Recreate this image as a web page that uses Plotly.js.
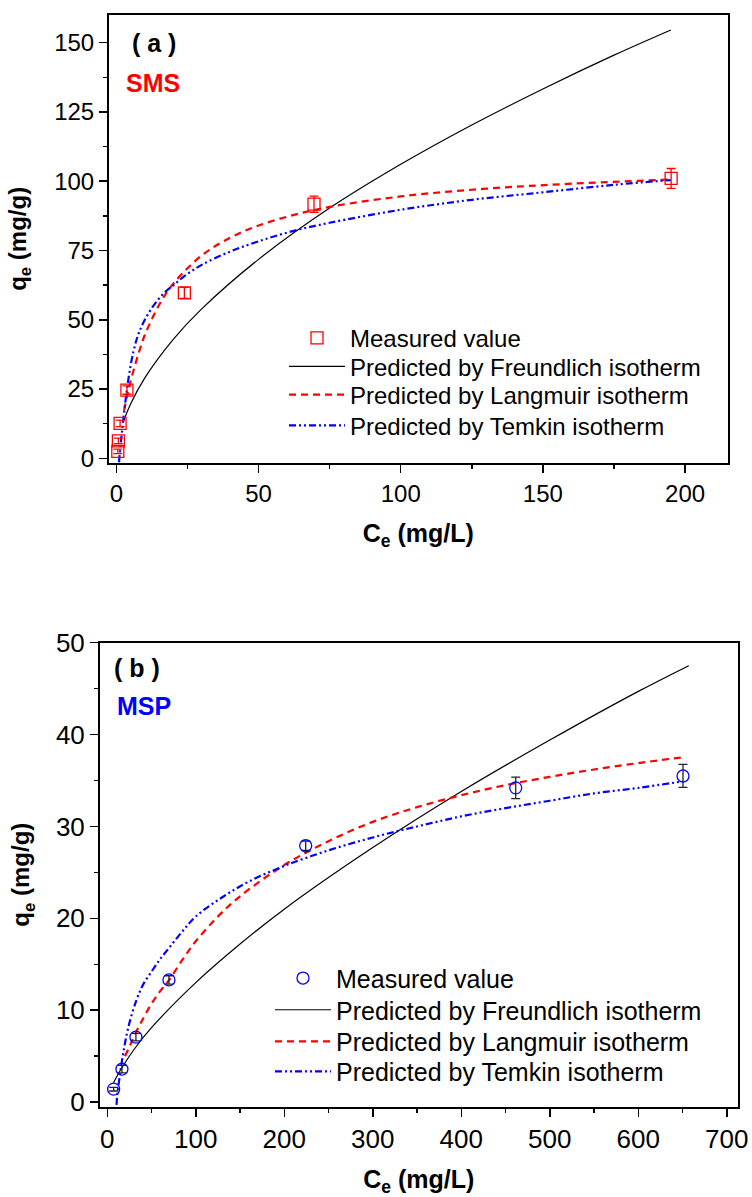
<!DOCTYPE html>
<html><head><meta charset="utf-8">
<script src="https://cdn.plot.ly/plotly-3.0.1.min.js"></script>
<style>html,body{margin:0;padding:0;background:#fff}</style>
</head><body><div id="chart" style="width:752px;height:1197px"></div>
<script>
// ---------- Panel (a) SMS ----------
const smsCe  = [0.5, 0.7, 1.3, 3.7, 23.9, 69.5, 195.1];
const smsQe  = [2.5, 6.3, 12.6, 24.6, 59.7, 91.7, 101.0];
const smsErr = [0.8, 1.0, 1.2, 1.5, 2.0, 2.9, 3.6];
const smsFreCe = [2.5, 5, 10, 20, 30, 50, 75, 100, 125, 150, 175, 195];
const smsFreQe = [13.3, 19.6, 29.0, 42.9, 53.9, 71.8, 90.3, 106.1, 120.3, 133.3, 145.5, 154.6];
const smsLanCe = [2.7, 4, 6, 8, 10, 15, 20, 30, 40, 50, 70, 100, 130, 160, 195];
const smsLanQe = [17.2, 23.6, 31.6, 38.5, 44.5, 55.3, 63.0, 73.2, 79.6, 84.0, 89.7, 94.5, 97.3, 99.1, 100.6];
const smsTemCe = [0.9, 1.5, 2, 3, 4, 5, 6, 7, 8, 10, 13, 16.6, 20, 24, 30, 40, 50, 62, 75, 100, 125, 150, 175, 195];
const smsTemQe = [-1.5, 5, 10, 19, 27, 33.5, 38.5, 42.5, 45.5, 50.0, 55.0, 59.5, 62.4, 65.8, 69.8, 74.6, 78.3, 82.0, 85.0, 89.7, 93.3, 96.0, 98.7, 100.4];

// ---------- Panel (b) MSP ----------
const mspCe  = [7.2, 16.6, 32.4, 69.7, 224.2, 461.5, 650.5];
const mspQe  = [1.41, 3.59, 7.07, 13.3, 27.9, 34.2, 35.5];
const mspErr = [0.2, 0.4, 0.4, 0.45, 0.5, 1.18, 1.25];
const mspFreCe = [7, 15, 30, 50, 100, 150, 200, 300, 400, 500, 600, 657];
const mspFreQe = [2.1, 3.5, 5.7, 8.1, 13.0, 17.2, 21.0, 27.7, 33.8, 39.4, 44.7, 47.5];
const mspLanCe = [20, 25, 30, 40, 50, 60, 70, 85, 100, 125, 150, 200, 250, 300, 350, 400, 450, 500, 550, 600, 648];
const mspLanQe = [5.0, 6.0, 7.1, 9.0, 10.7, 12.1, 13.3, 15.5, 17.5, 20.2, 22.4, 25.8, 28.4, 30.5, 32.1, 33.4, 34.5, 35.4, 36.2, 36.9, 37.5];
const mspTemCe = [10.5, 11, 12.5, 16, 20, 25, 33, 40, 50, 60, 70, 85, 100, 130, 160, 200, 250, 300, 350, 400, 450, 500, 550, 600, 650];
const mspTemQe = [-0.3, 0.45, 1.7, 4.1, 6.4, 8.6, 11.1, 12.7, 14.2, 15.6, 16.8, 18.6, 20.2, 22.3, 24.0, 25.7, 27.4, 28.8, 30.0, 31.1, 32.0, 32.8, 33.6, 34.2, 34.9];

const legendNames = ['Measured value', 'Predicted by Freundlich isotherm', 'Predicted by Langmuir isotherm', 'Predicted by Temkin isotherm'];

const F = 'Liberation Sans, Arial, sans-serif';
const W = 752, H = 1197;
const px = v => v / W, py = v => 1 - v / H;
const DASH_L = '7px,5px';
const DASH_T = '7px,3px,2px,3px,2px,3px';

const traces = [
  {x: smsFreCe, y: smsFreQe, name: legendNames[1], mode: 'lines', line: {color: '#000', width: 1.2, shape: 'spline'}, xaxis: 'x', yaxis: 'y', legend: 'legend2'},
  {x: smsLanCe, y: smsLanQe, name: legendNames[2], mode: 'lines', line: {color: '#ff0000', width: 2.2, dash: DASH_L, shape: 'spline'}, xaxis: 'x', yaxis: 'y', legend: 'legend3'},
  {x: smsTemCe, y: smsTemQe, name: legendNames[3], mode: 'lines', line: {color: '#0000ff', width: 2.2, dash: DASH_T, shape: 'spline'}, xaxis: 'x', yaxis: 'y', legend: 'legend4'},
  {x: smsCe, y: smsQe, name: legendNames[0], mode: 'markers', marker: {symbol: 'square-open', size: 12, color: '#ff0000', line: {width: 1.3}},
   error_y: {type: 'data', array: smsErr, color: '#ff0000', thickness: 1.3, width: 4.5}, xaxis: 'x', yaxis: 'y', legend: 'legend'},

  {x: mspFreCe, y: mspFreQe, name: legendNames[1], mode: 'lines', line: {color: '#000', width: 1.2, shape: 'spline'}, xaxis: 'x2', yaxis: 'y2', legend: 'legend6'},
  {x: mspLanCe, y: mspLanQe, name: legendNames[2], mode: 'lines', line: {color: '#ff0000', width: 2.2, dash: DASH_L, shape: 'spline'}, xaxis: 'x2', yaxis: 'y2', legend: 'legend7'},
  {x: mspTemCe, y: mspTemQe, name: legendNames[3], mode: 'lines', line: {color: '#0000ff', width: 2.2, dash: DASH_T, shape: 'spline'}, xaxis: 'x2', yaxis: 'y2', legend: 'legend8'},
  {x: mspCe, y: mspQe, name: legendNames[0], mode: 'markers', marker: {symbol: 'circle-open', size: 12, color: '#0000ff', line: {width: 1.3}},
   error_y: {type: 'data', array: mspErr, color: '#222', thickness: 1.3, width: 4.5}, xaxis: 'x2', yaxis: 'y2', legend: 'legend5'}
];

function leg(x, y, size) {
  return {x: px(x), y: py(y), xanchor: 'left', yanchor: 'middle', bgcolor: 'rgba(0,0,0,0)', borderwidth: 0,
          font: {family: F, size: size, color: '#000'}, itemwidth: 56};
}

function axis(extra) {
  return Object.assign({ticks: 'outside', ticklen: 8, tickwidth: 1.5, tickcolor: '#000', showline: true, linewidth: 2, linecolor: '#000',
    mirror: true, showgrid: false, zeroline: false, tick0: 0}, extra);
}

const layout = {
  width: W, height: H, margin: {l: 0, r: 0, t: 0, b: 0}, paper_bgcolor: '#fff', plot_bgcolor: '#fff',
  font: {family: F, color: '#000'}, showlegend: true,
  xaxis: axis({domain: [px(109), px(727.7)], range: [-2.6, 215], anchor: 'y', dtick: 50,
    minor: {dtick: 25, ticks: 'outside', ticklen: 4, tickwidth: 1.5, tickcolor: '#000'}, tickfont: {size: 24},
    title: {text: '<b>C<sub>e</sub> (mg/L)</b>', font: {size: 25}, standoff: 19}}),
  yaxis: axis({domain: [py(462.7), py(15)], range: [-1.6, 160], anchor: 'x', dtick: 25,
    minor: {dtick: 12.5, ticks: 'outside', ticklen: 4, tickwidth: 1.5, tickcolor: '#000'}, tickfont: {size: 24},
    title: {text: '<b>q<sub>e</sub> (mg/g)</b>', font: {size: 24}, standoff: 21}}),
  xaxis2: axis({domain: [px(100), px(737.7)], range: [-8.2, 712.3], anchor: 'y2', dtick: 100,
    minor: {dtick: 50, ticks: 'outside', ticklen: 4, tickwidth: 1.5, tickcolor: '#000'}, tickfont: {size: 26},
    title: {text: '<b>C<sub>e</sub> (mg/L)</b>', font: {size: 25}, standoff: 19}}),
  yaxis2: axis({domain: [py(1106.7), py(642.7)], range: [-0.5, 50], anchor: 'x2', dtick: 10,
    minor: {dtick: 5, ticks: 'outside', ticklen: 4, tickwidth: 1.5, tickcolor: '#000'}, tickfont: {size: 26},
    title: {text: '<b>q<sub>e</sub> (mg/g)</b>', font: {size: 24}, standoff: 19}}),
  legend:  leg(284, 338.3, 24), legend2: leg(284, 366.7, 24), legend3: leg(284, 395, 24), legend4: leg(284, 425.7, 24),
  legend5: leg(270, 978.3, 25), legend6: leg(270, 1010, 25), legend7: leg(270, 1041.7, 25), legend8: leg(270, 1071.7, 25),
  annotations: [
    {text: '<b>( a )</b>', x: px(130), y: py(42.7), xref: 'paper', yref: 'paper', xanchor: 'left', yanchor: 'middle', showarrow: false, font: {size: 25, color: '#000'}},
    {text: '<b>SMS</b>', x: px(124), y: py(83), xref: 'paper', yref: 'paper', xanchor: 'left', yanchor: 'middle', showarrow: false, font: {size: 25, color: '#ff0000'}},
    {text: '<b>( b )</b>', x: px(112), y: py(668.3), xref: 'paper', yref: 'paper', xanchor: 'left', yanchor: 'middle', showarrow: false, font: {size: 25, color: '#000'}},
    {text: '<b>MSP</b>', x: px(115), y: py(706), xref: 'paper', yref: 'paper', xanchor: 'left', yanchor: 'middle', showarrow: false, font: {size: 25, color: '#0000ff'}}
  ]
};

Plotly.newPlot('chart', traces, layout, {staticPlot: true, displayModeBar: false});
</script></body></html>
